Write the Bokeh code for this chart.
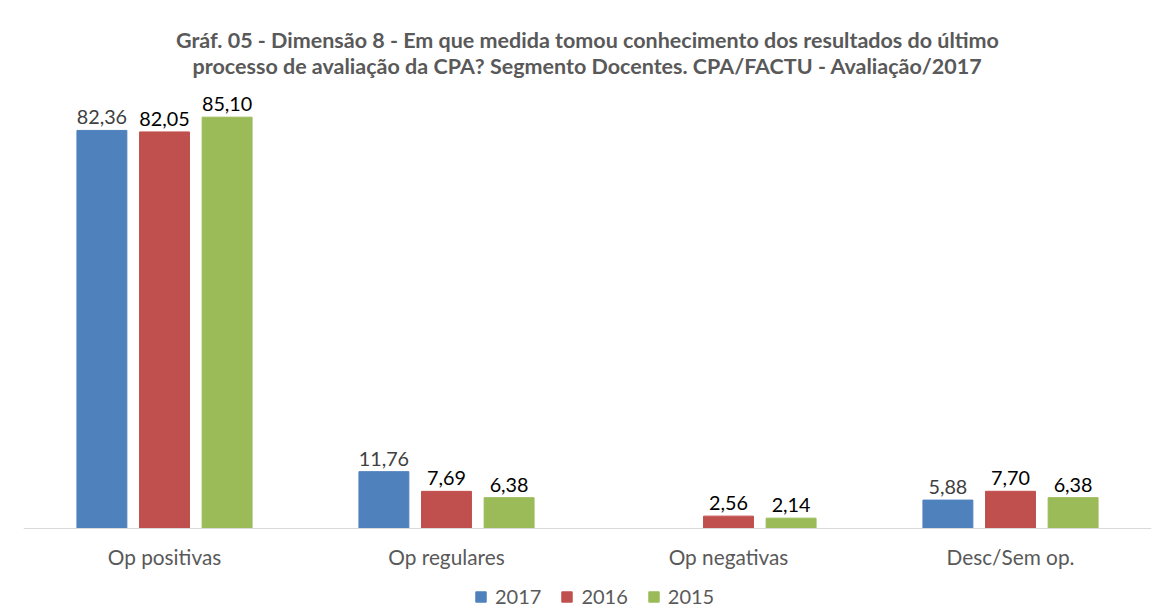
from bokeh.plotting import figure
from bokeh.models import ColumnDataSource, Legend, LegendItem, LabelSet, Title, Span, Range1d
from bokeh.core.properties import value
from bokeh.transform import dodge
from bokeh.embed import file_html
from bokeh.resources import INLINE

categories = ["Op positivas", "Op regulares", "Op negativas", "Desc/Sem op."]
years = ["2017", "2016", "2015"]
v2017 = [82.36, 11.76, 0.0, 5.88]
v2016 = [82.05, 7.69, 2.56, 7.70]
v2015 = [85.10, 6.38, 2.14, 6.38]
colors = ["#4F81BD", "#C0504D", "#9BBB59"]
label_colors = ["#404040", "#000000", "#000000"]

FONT = "Lato"

def fmt(v):
    return "" if v == 0 else f"{v:.2f}".replace(".", ",")

xpos = [i + 0.5 for i in range(len(categories))]
src = ColumnDataSource(dict(
    x=xpos, cat=categories, zero=[0] * len(categories),
    v2017=v2017, v2016=v2016, v2015=v2015,
    l2017=[fmt(v) for v in v2017], l2016=[fmt(v) for v in v2016], l2015=[fmt(v) for v in v2015],
))

# frame: top at 93px, bottom at 608px; 90 units span 435px
px_per_unit = 435 / 90
p = figure(width=1155, height=612, output_backend="svg", toolbar_location=None,
           x_range=Range1d(0, 4), y_range=Range1d(-80 / px_per_unit, 90),
           min_border_left=23, min_border_right=4, min_border_top=93, min_border_bottom=4)
p.outline_line_color = None
p.grid.grid_line_color = None
p.xaxis.visible = False
p.yaxis.visible = False
p.background_fill_color = "white"
p.border_fill_color = "white"

p.add_layout(Span(location=0, dimension="width", line_color="#D9D9D9", line_width=1))

offsets = [-0.222, 0.0, 0.222]
series = [("v2017", "l2017"), ("v2016", "l2016"), ("v2015", "l2015")]
items = []
for (col, lab), off, c, lc, yr in zip(series, offsets, colors, label_colors, years):
    r = p.vbar(x=dodge("x", off), top=col, width=0.177, source=src, color=c, line_color=c)
    items.append(LegendItem(label=yr, renderers=[r]))
    p.add_layout(LabelSet(x=dodge("x", off), y=col, text=lab, source=src, text_align="center",
                          text_baseline="bottom", y_offset=6, text_font=value(FONT),
                          text_font_size="19.8px", text_color=lc))

p.add_layout(LabelSet(x="x", y="zero", text="cat", source=src, text_align="center",
                      text_baseline="middle", y_offset=-28, text_font=value(FONT),
                      text_font_size="20.8px", text_color="#595959"))

legend = Legend(items=items, orientation="horizontal", location=(451, 0),
                label_text_font=FONT, label_text_font_size="20px", label_text_color="#595959",
                glyph_width=13, glyph_height=13, spacing=19, border_line_color=None,
                background_fill_alpha=0, padding=2, margin=0, label_standoff=8)
p.add_layout(legend)

title = ("Gráf. 05 - Dimensão 8 - Em que medida tomou conhecimento dos resultados do último\n"
         "processo de avaliação da CPA? Segmento Docentes. CPA/FACTU - Avaliação/2017")
p.add_layout(Title(text=title, align="center", text_align="center", text_font=FONT,
                   text_font_size="21.5px", text_font_style="bold", text_color="#595959",
                   text_line_height=1.0, vertical_align="top", standoff=25), "above")

open("out.html", "w").write(file_html(p, INLINE))
